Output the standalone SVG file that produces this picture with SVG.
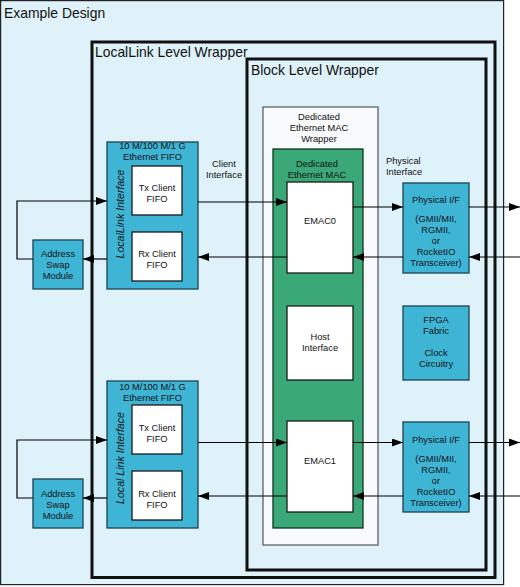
<svg xmlns="http://www.w3.org/2000/svg" width="520" height="587" viewBox="0 0 520 587">
<defs>
<marker id="ah" markerUnits="userSpaceOnUse" markerWidth="12" markerHeight="10" refX="11" refY="4" orient="auto">
<path d="M0,0 L11,4 L0,8 Z" fill="#000"/>
</marker>
<style>
.wrap{fill:#dff1f9;stroke:#111;stroke-width:3}
.outer{fill:#dff1f9;stroke:#222;stroke-width:1.2}
.blue{fill:#3fb5d6;stroke:#1c4352;stroke-width:1.3}
.green{fill:#3aa877;stroke:#123322;stroke-width:1.3}
.white{fill:#fff;stroke:#1a1a1a;stroke-width:1.3}
.mw{fill:#f7f9fa;stroke:#555;stroke-width:1.2}
.t{font-family:"Liberation Sans",Arial,sans-serif;font-size:9.3px;fill:#111;text-anchor:middle}
.tl{font-family:"Liberation Sans",Arial,sans-serif;font-size:9.3px;fill:#111}
.vt{font-family:"Liberation Sans",Arial,sans-serif;font-size:10.6px;font-style:italic;fill:#111;text-anchor:middle}
.big{font-family:"Liberation Sans",Arial,sans-serif;font-size:13.9px;fill:#111}
.c{fill:none;stroke:#000;stroke-width:1.2}
</style>
</defs>
<g id="example-design">
<rect class="outer" x="0.6" y="0.6" width="503" height="584"/>
<text class="big" x="4" y="17.5">Example Design</text>
</g>
<g id="locallink-wrapper">
<rect class="wrap" x="92" y="42" width="403" height="535.5"/>
<text class="big" x="95" y="57">LocalLink Level Wrapper</text>
</g>
<g id="block-wrapper">
<rect class="wrap" x="247" y="59" width="239" height="511"/>
<text class="big" x="251" y="75">Block Level Wrapper</text>
</g>
<g id="mac-wrapper">
<rect class="mw" x="263" y="107" width="115" height="438"/>
<text class="t" x="319" y="119.5">Dedicated</text>
<text class="t" x="319" y="130.5">Ethernet MAC</text>
<text class="t" x="319" y="141.5">Wrapper</text>
</g>
<g id="mac">
<rect class="green" x="273" y="149" width="90" height="379"/>
<text class="t" x="317" y="166.5">Dedicated</text>
<text class="t" x="317" y="177.5">Ethernet MAC</text>
</g>
<g id="emac0">
<rect class="white" x="287" y="182" width="66" height="91"/>
<text class="t" x="320" y="224">EMAC0</text>
</g>
<g id="host-interface">
<rect class="white" x="287" y="306" width="66" height="74"/>
<text class="t" x="320" y="339.5">Host</text>
<text class="t" x="320" y="350.5">Interface</text>
</g>
<g id="emac1">
<rect class="white" x="287" y="421" width="66" height="91"/>
<text class="t" x="320" y="463.5">EMAC1</text>
</g>
<g id="phy0">
<rect class="blue" x="403" y="183" width="66" height="90"/>
<text class="t" x="436" y="202.5">Physical I/F</text>
<text class="t" x="436" y="221.5">(GMII/MII,</text>
<text class="t" x="436" y="232.5">RGMII,</text>
<text class="t" x="436" y="243.5">or</text>
<text class="t" x="436" y="254.5">RocketIO</text>
<text class="t" x="436" y="265.5">Transceiver)</text>
</g>
<g id="fpga-clock">
<rect class="blue" x="403" y="306" width="66" height="74"/>
<text class="t" x="436" y="322.5">FPGA</text>
<text class="t" x="436" y="333.5">Fabric</text>
<text class="t" x="436" y="355.5">Clock</text>
<text class="t" x="436" y="366.5">Circuitry</text>
</g>
<g id="phy1">
<rect class="blue" x="403" y="422" width="66" height="90"/>
<text class="t" x="436" y="442.5">Physical I/F</text>
<text class="t" x="436" y="461.5">(GMII/MII,</text>
<text class="t" x="436" y="472.5">RGMII,</text>
<text class="t" x="436" y="483.5">or</text>
<text class="t" x="436" y="494.5">RocketIO</text>
<text class="t" x="436" y="505.5">Transceiver)</text>
</g>
<g id="fifo0">
<rect class="blue" x="107" y="142" width="91" height="147"/>
<text class="t" x="152.5" y="149">10 M/100 M/1 G</text>
<text class="t" x="152.5" y="160">Ethernet FIFO</text>
<text class="vt" transform="translate(124,214) rotate(-90)">LocalLink Interface</text>
</g>
<g id="tx-fifo0">
<rect class="white" x="132" y="166" width="50" height="49"/>
<text class="t" x="157" y="190.5">Tx Client</text>
<text class="t" x="157" y="201.5">FIFO</text>
</g>
<g id="rx-fifo0">
<rect class="white" x="132" y="232" width="50" height="49"/>
<text class="t" x="157" y="256.5">Rx Client</text>
<text class="t" x="157" y="267.5">FIFO</text>
</g>
<g id="addr-swap0">
<rect class="blue" x="33" y="240" width="50" height="49"/>
<text class="t" x="58" y="256.5">Address</text>
<text class="t" x="58" y="267.5">Swap</text>
<text class="t" x="58" y="278.5">Module</text>
</g>
<g id="fifo1">
<rect class="blue" x="107" y="381" width="91" height="147"/>
<text class="t" x="152.5" y="389.5">10 M/100 M/1 G</text>
<text class="t" x="152.5" y="400.5">Ethernet FIFO</text>
<text class="vt" transform="translate(124,458) rotate(-90)">Local Link Interface</text>
</g>
<g id="tx-fifo1">
<rect class="white" x="132" y="405" width="50" height="49"/>
<text class="t" x="157" y="430.5">Tx Client</text>
<text class="t" x="157" y="441.5">FIFO</text>
</g>
<g id="rx-fifo1">
<rect class="white" x="132" y="471" width="50" height="49"/>
<text class="t" x="157" y="496.5">Rx Client</text>
<text class="t" x="157" y="507.5">FIFO</text>
</g>
<g id="addr-swap1">
<rect class="blue" x="33" y="479" width="50" height="49"/>
<text class="t" x="58" y="496.5">Address</text>
<text class="t" x="58" y="507.5">Swap</text>
<text class="t" x="58" y="518.5">Module</text>
</g>
<g id="labels">
<text class="t" x="224" y="166.5">Client</text>
<text class="t" x="224" y="177.5">Interface</text>
<text class="tl" x="386" y="163.5">Physical</text>
<text class="tl" x="386" y="174.5">Interface</text>
</g>
<g id="connectors">
<line class="c" x1="198" y1="202" x2="287" y2="202" marker-end="url(#ah)"/>
<line class="c" x1="353" y1="207" x2="403" y2="207" marker-end="url(#ah)"/>
<line class="c" x1="469" y1="207" x2="520" y2="207" marker-end="url(#ah)"/>
<line class="c" x1="520" y1="257" x2="469" y2="257" marker-end="url(#ah)"/>
<line class="c" x1="403" y1="257" x2="353" y2="257" marker-end="url(#ah)"/>
<line class="c" x1="287" y1="257" x2="198" y2="257" marker-end="url(#ah)"/>
<line class="c" x1="107" y1="259" x2="83" y2="259" marker-end="url(#ah)"/>
<polyline class="c" points="33,259 17,259 17,201 107,201" marker-end="url(#ah)"/>
<line class="c" x1="198" y1="442.5" x2="287" y2="442.5" marker-end="url(#ah)"/>
<line class="c" x1="353" y1="442.5" x2="403" y2="442.5" marker-end="url(#ah)"/>
<line class="c" x1="469" y1="442.5" x2="520" y2="442.5" marker-end="url(#ah)"/>
<line class="c" x1="520" y1="496" x2="469" y2="496" marker-end="url(#ah)"/>
<line class="c" x1="403" y1="496" x2="353" y2="496" marker-end="url(#ah)"/>
<line class="c" x1="287" y1="496" x2="198" y2="496" marker-end="url(#ah)"/>
<line class="c" x1="107" y1="498" x2="83" y2="498" marker-end="url(#ah)"/>
<polyline class="c" points="33,498 17,498 17,440 107,440" marker-end="url(#ah)"/>
</g>
</svg>
